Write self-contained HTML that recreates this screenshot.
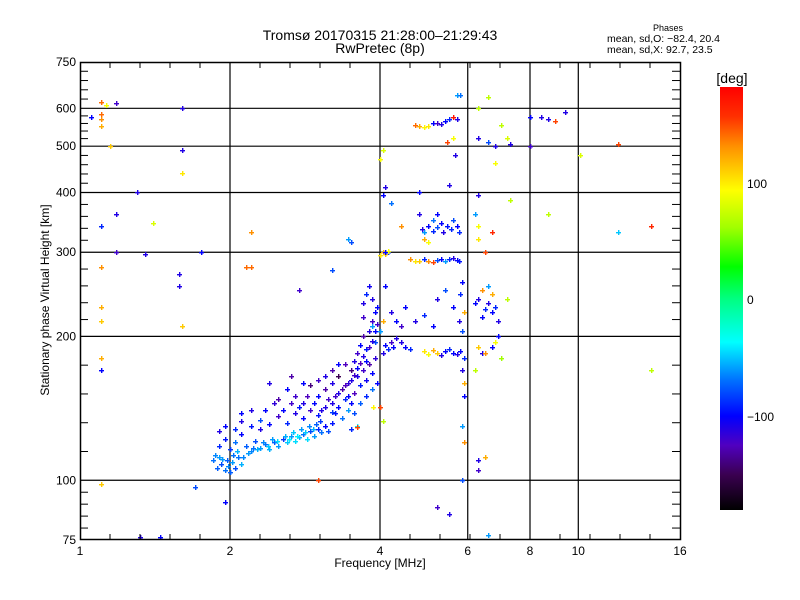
<!DOCTYPE html>
<html><head><meta charset="utf-8"><style>
body{margin:0;background:#fff;}
svg{display:block;font-family:"Liberation Sans",sans-serif;}
</style></head><body>
<svg id="chart" width="800" height="600" viewBox="0 0 800 600" xmlns="http://www.w3.org/2000/svg">
<defs>
<linearGradient id="cbar" x1="0" y1="1" x2="0" y2="0">
<stop offset="0" stop-color="#000000"/>
<stop offset="0.083" stop-color="#3a0050"/>
<stop offset="0.153" stop-color="#5000c0"/>
<stop offset="0.222" stop-color="#0000ff"/>
<stop offset="0.306" stop-color="#0070ff"/>
<stop offset="0.397" stop-color="#00ffff"/>
<stop offset="0.5" stop-color="#00ff80"/>
<stop offset="0.575" stop-color="#00ff00"/>
<stop offset="0.667" stop-color="#a0ff00"/>
<stop offset="0.756" stop-color="#ffff00"/>
<stop offset="0.86" stop-color="#ff9000"/>
<stop offset="0.93" stop-color="#ff3000"/>
<stop offset="1" stop-color="#ff0000"/>
</linearGradient>
</defs>
<text x="380" y="40" font-size="14" text-anchor="middle">Tromsø 20170315 21:28:00–21:29:43</text>
<text x="380" y="53" font-size="14" text-anchor="middle">RwPretec (8p)</text>
<text x="668" y="31" font-size="9" text-anchor="middle">Phases</text>
<text x="607" y="42" font-size="10.5">mean, sd,O: −82.4, 20.4</text>
<text x="607" y="53" font-size="10.5">mean, sd,X:  92.7, 23.5</text>
<g id="grid"></g>
<g id="points"></g>
<rect x="80.5" y="62.5" width="600" height="477" fill="none" stroke="#000" stroke-width="1.5"/>
<g id="axes"></g>
<text x="380" y="567" font-size="12" text-anchor="middle">Frequency [MHz]</text>
<text transform="translate(49,300) rotate(-90)" font-size="12" text-anchor="middle">Stationary phase Virtual Height [km]</text>
<rect x="720" y="87" width="23" height="423" fill="url(#cbar)"/>
<text x="732" y="83" font-size="14" text-anchor="middle">[deg]</text>
<text x="747" y="188" font-size="12">100</text>
<text x="747" y="304" font-size="12">0</text>
<text x="747" y="421" font-size="12">−100</text>
</svg>
<script>
const xTicks = [1, 2, 4, 6, 8, 10, 16];
const yTicks = [75, 100, 200, 300, 400, 500, 600, 750];
const xGrid = [2, 4, 6, 8, 10];
const yGrid = [100, 200, 300, 400, 500, 600];
const freq = [
1.85,1.88,1.9,1.92,1.95,1.98,2.0,2.02,2.05,2.08,2.1,1.9,1.95,2.0,2.05,2.1,2.15,2.2,2.25,2.3,2.35,2.4,2.45,2.5,2.55,2.6,2.65,2.7,2.75,2.8,2.85,2.9,2.95,3.0,3.05,3.1,3.15,3.2,
1.9,1.95,2.05,2.1,2.2,2.3,2.4,2.5,2.6,2.7,2.8,2.9,3.0,3.1,3.2,
3.2,3.25,3.3,3.35,3.4,3.45,3.5,3.55,3.6,3.65,3.7,3.75,3.8,3.85,3.9,3.5,3.55,3.6,3.65,3.7,3.75,3.8,3.85,3.9,3.7,3.75,3.8,3.85,3.9,3.4,3.3,3.2,3.1,3.0,2.9,2.8,2.7,2.6,2.5,2.4,3.35,3.45,3.55,3.65,3.75,3.85,3.95,3.6,3.5,3.88,4.0,3.6,4.05,
4.05,4.1,4.15,4.2,4.25,4.3,4.0,4.05,4.1,4.15,4.2,
2.75,3.2,2.2,3.45,3.5,
4.6,4.7,4.8,4.9,5.0,5.1,5.2,5.3,5.4,5.5,5.6,5.7,5.75,4.0,4.05,4.1,4.15,
4.85,4.9,5.0,5.1,5.2,5.3,5.35,5.45,5.55,5.6,5.7,5.75,4.9,5.0,5.1,5.2,4.8,
4.9,5.0,5.1,5.2,5.3,5.4,5.5,5.6,5.7,5.8,4.5,4.4,4.6,
4.5,4.7,4.9,5.1,5.2,5.4,5.6,5.75,5.8,5.85,5.9,5.85,4.3,4.4,
4.7,4.8,4.9,5.0,5.1,5.2,5.3,5.4,5.5,5.6,5.7,5.45,5.6,5.65,
5.7,5.8,
4.0,4.05,4.1,4.05,4.1,4.8,5.5,4.4,4.2,
5.9,5.85,5.9,5.9,5.85,5.85,5.9,
5.2,5.5,6.6,6.3,6.3,6.5,
6.2,6.3,6.4,6.5,6.6,6.7,6.8,6.9,6.6,6.7,6.4,6.3,6.4,6.7,6.8,7.0,6.9,6.5,7.2,6.2,
6.3,6.2,6.3,6.3,6.5,6.7,7.3,6.8,6.3,6.6,6.8,7.2,7.3,7.0,6.3,6.6,
8.0,8.4,8.7,9.0,9.4,8.7,10.1,8.0,12,12,14,14,
1.1,1.13,1.18,1.05,1.1,1.1,1.1,1.15,1.6,1.6,1.6,1.3,1.18,1.1,1.4,1.18,1.35,1.75,1.1,1.58,1.58,1.1,1.1,1.6,1.1,1.1,1.1,1.7,1.95,1.32,1.45,2.2,2.15,3.0,
1.87,1.93,1.97,2.03,2.07,2.12,2.17,2.22,2.27,2.33,2.38,2.43,2.48,2.58,2.63,2.68,2.73,2.78,2.83,2.88,2.93,2.98,3.03,
2.3,2.35,2.45,2.55,2.65,2.75,2.85,2.95,3.05,3.15,3.25,3.3,3.4,3.45,3.5,3.55,3.6,3.65,3.7,3.75,3.8,3.85,3.9,3.95,3.95,3.85,3.7,3.3,3.2,3.1,3.0,2.8,2.65,2.2,2.1
];
const height = [
110,106,112,108,105,107,104,109,106,112,108,118,122,116,120,125,118,115,121,117,119,116,120,118,122,120,124,121,123,125,122,127,124,128,126,130,127,132,
127,130,128,133,130,134,131,136,132,138,135,140,137,142,139,
145,150,142,155,148,160,145,152,165,158,170,162,175,168,180,170,178,185,192,200,188,205,215,225,235,245,255,210,195,175,165,160,155,150,158,145,150,155,148,160,135,140,138,145,150,155,160,130,128,142,142,129,133,
185,192,188,195,190,198,205,215,255,300,225,
250,275,280,320,315,
290,288,287,290,288,286,289,291,288,290,292,289,287,296,300,298,302,
335,330,340,332,338,345,330,340,335,350,340,330,320,315,350,360,360,
186,184,187,185,183,186,188,185,184,186,190,195,188,
230,215,222,210,240,250,230,215,245,260,225,205,215,210,
555,550,548,552,558,560,556,565,570,575,570,510,520,480,
640,640,
470,490,410,395,300,400,415,340,380,
150,170,180,160,130,100,120,
88,85,77,110,105,112,
235,240,220,228,235,225,230,215,255,245,250,190,185,190,195,180,200,185,240,170,
395,360,340,320,300,330,385,460,520,510,500,520,505,555,600,635,
575,575,570,565,590,360,480,500,505,330,340,170,
620,610,615,575,585,570,550,500,600,490,440,400,360,340,345,300,298,300,280,270,255,230,215,210,180,170,98,97,90,76,76,330,280,100,
113,111,110,113,115,112,114,117,116,120,118,122,121,124,122,126,124,128,126,130,128,131,133,
128,140,145,140,145,142,150,145,140,148,138,152,158,150,162,166,172,176,182,178,190,196,205,212,230,240,220,175,170,165,162,160,165,140,138
];
const phase = [
-70,-75,-60,-80,-70,-65,-75,-60,-80,-70,-55,-90,-95,-85,-70,-100,-75,-65,-80,-60,-70,-55,-75,-60,-85,-50,-60,-45,-55,-70,-45,-80,-60,-90,-70,-100,-80,-95,
-110,-100,-90,-110,-95,-80,-100,-120,-90,-110,-100,-120,-95,-110,-85,
-110,-120,-100,-130,-90,-115,-100,-125,-110,-95,-120,-105,-130,-100,-115,-140,-110,-120,-100,-130,-95,-110,-120,-100,-110,-90,-105,-60,-80,-125,-150,-110,-130,-100,-140,-110,-120,-100,-130,-110,-70,-60,-80,-75,-90,-70,-100,-40,-90,95,150,150,70,
-110,-100,-90,-120,-100,-110,-60,120,-100,-90,-110,
-120,-80,140,-60,-80,
130,100,110,-90,130,150,-80,-100,-60,-90,-110,-100,-95,100,120,110,90,
-110,-60,-100,-90,-80,-100,-110,-95,-90,-80,-100,-90,120,90,-70,-100,-110,
100,90,120,110,-110,-100,-90,-100,-110,-100,-100,-110,-90,
-100,-110,-90,-100,-110,-80,-100,-110,-90,-100,120,-80,-100,-120,
140,120,95,100,-100,-120,-110,-100,-90,170,-110,150,90,-110,
-60,-70,
90,80,-110,-100,-100,-100,-110,130,-70,
-100,-110,-90,120,-60,-80,130,
-120,-110,-60,-110,-120,120,
-100,-110,-100,-90,-110,-100,-90,-110,-60,120,130,110,-110,-100,90,60,-100,130,70,70,
-110,-60,90,100,150,160,70,90,-110,-80,-110,80,-110,70,70,70,
-100,-110,-110,150,-110,70,80,-120,150,-50,160,70,
140,90,-120,-100,140,130,120,110,-110,-110,100,-110,-110,-90,80,-120,-110,-100,130,-110,-110,120,110,110,120,-100,110,-80,-100,-110,-100,130,140,150,
-65,-60,-75,-70,-55,-65,-60,-70,-55,-65,-50,-60,-45,-55,-40,-50,-40,-60,-50,-65,-55,-75,-85,
-110,-100,-115,-100,-120,-95,-125,-100,-110,-120,-95,-110,-125,-100,-110,-120,-100,-125,-110,-100,-120,-110,-100,-120,-100,-110,-120,-100,-130,-110,-120,-100,-130,-110,-100
];

const NS = "http://www.w3.org/2000/svg";
const X0 = 80, X1 = 680, Y0 = 540, Y1 = 62;
function xs(f){ return X0 + (X1 - X0) * Math.log2(f) / 4; }
function ys(h){ return Y0 - (Y0 - Y1) * Math.log10(h / 75) / 1; }
const cStops = [[-180,[0,0,0]],[-150,[58,0,80]],[-125,[80,0,192]],[-100,[0,0,255]],[-70,[0,112,255]],[-37,[0,255,255]],[0,[0,255,128]],[27,[0,255,0]],[60,[160,255,0]],[92,[255,255,0]],[130,[255,144,0]],[155,[255,48,0]],[180,[255,0,0]]];
function col(p){
  if (p <= cStops[0][0]) return "rgb(0,0,0)";
  for (let i = 1; i < cStops.length; i++) {
    if (p <= cStops[i][0]) {
      const a = cStops[i-1], b = cStops[i], t = (p - a[0]) / (b[0] - a[0]);
      const c = a[1].map((v, k) => Math.round(v + (b[1][k] - v) * t));
      return "rgb(" + c.join(",") + ")";
    }
  }
  return "rgb(255,0,0)";
}
function mk(tag, attrs, parent){
  const e = document.createElementNS(NS, tag);
  for (const k in attrs) e.setAttribute(k, attrs[k]);
  parent.appendChild(e);
  return e;
}
const grid = document.getElementById("grid");
xGrid.forEach(f => {
  const l = mk("line", {x1: xs(f), x2: xs(f), y1: Y1, y2: Y0, stroke: "#000", "stroke-width": 1.2}, grid);
  
  
});
yGrid.forEach(h => {
  const l = mk("line", {x1: X0, x2: X1, y1: ys(h), y2: ys(h), stroke: "#000", "stroke-width": 1.2}, grid);
  
  
});
const axes = document.getElementById("axes");
for (let x = X0 + 30; x < X1; x += 30) {
  const t1 = mk("line", {x1: x, x2: x, y1: Y0 - 6, y2: Y0, stroke: "#000"}, axes);
  
  
  const t2 = mk("line", {x1: x, x2: x, y1: Y1, y2: Y1 + 6, stroke: "#000"}, axes);
  
  
}
for (let i = 0; i < yTicks.length - 1; i++) {
  const a = ys(yTicks[i]), b = ys(yTicks[i+1]);
  for (let k = 1; k < 5; k++) {
    const y = a + (b - a) * k / 5;
    const t1 = mk("line", {x1: X0, x2: X0 + 8, y1: y, y2: y, stroke: "#000"}, axes);
    
    
    const t2 = mk("line", {x1: X1 - 8, x2: X1, y1: y, y2: y, stroke: "#000"}, axes);
    
    
  }
}
xTicks.forEach(f => {
  const t = mk("text", {x: xs(f), y: 555, "font-size": 12, "text-anchor": "middle"}, axes);
  t.textContent = String(f);
  
  
});
yTicks.forEach(h => {
  const t = mk("text", {x: 76, y: ys(h) + 4, "font-size": 12, "text-anchor": "end"}, axes);
  t.textContent = String(h);
  
  
});
const pts = document.getElementById("points");
for (let i = 0; i < freq.length; i++) {
  const x = Math.round(xs(freq[i])), y = Math.round(ys(height[i]));
  const g = mk("g", {fill: col(phase[i])}, pts);
  
  
  mk("rect", {x: x - 2, y: y, width: 5, height: 1.4}, g);
  mk("rect", {x: x, y: y - 2, width: 1.4, height: 5}, g);
}
</script>
</body></html>
